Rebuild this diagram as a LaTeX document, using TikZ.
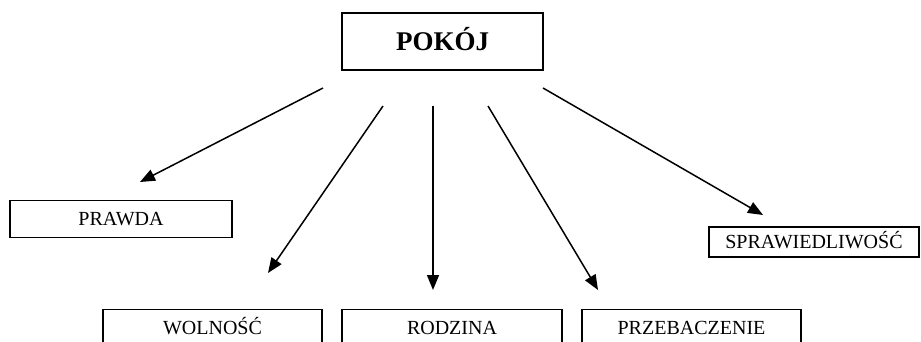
\documentclass[tikz,border=0pt]{standalone}
\usepackage{fontspec}
\setmainfont{Liberation Serif}
\usetikzlibrary{arrows.meta}

\begin{document}
\begin{tikzpicture}[x=1pt,y=-1pt,
  box/.style={draw,line width=1.5pt,inner sep=0pt,minimum height=37pt,text height=13pt,text depth=0pt,font=\fontsize{20}{24}\selectfont},
  arr/.style={line width=1.5pt,-{Triangle[length=15pt,width=12pt]}}]
\useasboundingbox (0,0) rectangle (921,342);
\node[box,minimum width=201pt,minimum height=57pt,text height=18pt,font=\fontsize{27}{32}\selectfont\bfseries] (pokoj) at (442.5,41.5) {POKÓJ};
\node[box,minimum width=222pt] (prawda) at (121,219) {PRAWDA};
\node[box,minimum width=219pt] (wolnosc) at (212.5,328) {WOLNOŚĆ};
\node[box,minimum width=220pt] (rodzina) at (452,328) {RODZINA};
\node[box,minimum width=219pt] (przebaczenie) at (691.5,328) {PRZEBACZENIE};
\node[box,minimum width=210pt,minimum height=30pt] (sprawiedliwosc) at (814,242) {SPRAWIEDLIWOŚĆ};
\coordinate (s1) at (323,88); \coordinate (e1) at (140,182);
\coordinate (s2) at (383,106); \coordinate (e2) at (268,273);
\coordinate (s3) at (433,106); \coordinate (e3) at (433,290);
\coordinate (s4) at (488,106); \coordinate (e4) at (598,290);
\coordinate (s5) at (543,88); \coordinate (e5) at (763,215);
\draw[arr] (s1) -- (e1);
\draw[arr] (s2) -- (e2);
\draw[arr] (s3) -- (e3);
\draw[arr] (s4) -- (e4);
\draw[arr] (s5) -- (e5);
\end{tikzpicture}
\end{document}
